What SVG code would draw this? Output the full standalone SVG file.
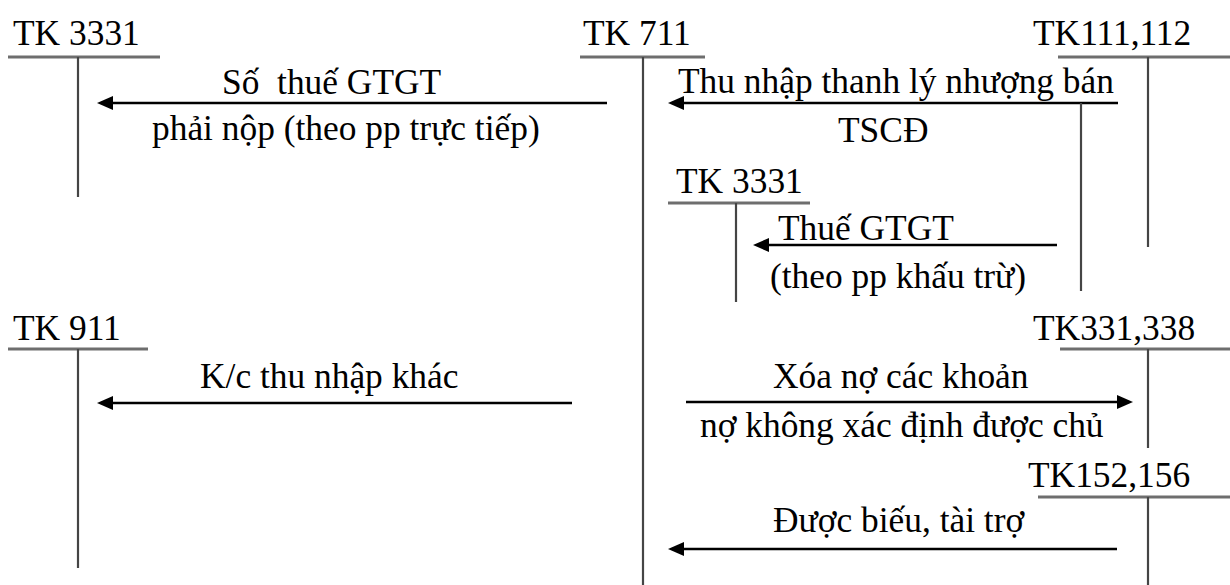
<svg xmlns="http://www.w3.org/2000/svg" width="1230" height="585" viewBox="0 0 1230 585">
  <style>
    text { font-family: "Liberation Serif", "Times New Roman", serif; font-size: 35.4px; fill: #000; }
    .bar { stroke: #6e6e6e; stroke-width: 3; fill: none; }
    .stem { stroke: #454545; stroke-width: 2.2; fill: none; }
    .flow { stroke: #000; stroke-width: 2.6; fill: none; marker-end: url(#head); }
  </style>
  <defs>
    <marker id="head" markerUnits="userSpaceOnUse" markerWidth="18" markerHeight="16" refX="8" refY="7" orient="auto">
      <path d="M0,0 L16,7 L0,14 z" fill="#000"/>
    </marker>
  </defs>
  <rect width="1230" height="585" fill="#fff"/>

  <!-- T-accounts -->
  <g id="tk3331-left">
    <text x="13" y="45">TK 3331</text>
    <line class="bar" x1="8" y1="57" x2="160" y2="57"/>
    <line class="stem" x1="78" y1="57" x2="78" y2="197"/>
  </g>
  <g id="tk711">
    <text x="583" y="45">TK 711</text>
    <line class="bar" x1="580" y1="57" x2="705" y2="57"/>
    <line class="stem" x1="643" y1="57" x2="643" y2="585"/>
  </g>
  <g id="tk111-112">
    <text x="1033" y="45">TK111,112</text>
    <line class="bar" x1="1058" y1="57" x2="1230" y2="57"/>
    <line class="stem" x1="1148" y1="57" x2="1148" y2="247"/>
  </g>
  <g id="tk3331-inner">
    <text x="676" y="193">TK 3331</text>
    <line class="bar" x1="668" y1="203" x2="810" y2="203"/>
    <line class="stem" x1="736" y1="203" x2="736" y2="302"/>
  </g>
  <g id="tk911">
    <text x="13" y="340">TK 911</text>
    <line class="bar" x1="8" y1="349" x2="148" y2="349"/>
    <line class="stem" x1="78" y1="349" x2="78" y2="568"/>
  </g>
  <g id="tk331-338">
    <text x="1033" y="340">TK331,338</text>
    <line class="bar" x1="1060" y1="349" x2="1230" y2="349"/>
    <line class="stem" x1="1148" y1="349" x2="1148" y2="448"/>
  </g>
  <g id="tk152-156">
    <text x="1028" y="487">TK152,156</text>
    <line class="bar" x1="1038" y1="497" x2="1230" y2="497"/>
    <line class="stem" x1="1148" y1="497" x2="1148" y2="585"/>
  </g>

  <!-- entries -->
  <g id="connectors">
    <line class="flow" x1="607" y1="103" x2="105" y2="103"/>
    <line class="flow" x1="1118" y1="103" x2="676" y2="103"/>
    <line class="stem" x1="1081" y1="103" x2="1081" y2="291"/>
    <line class="flow" x1="1057" y1="245" x2="761" y2="245"/>
    <line class="flow" x1="572" y1="403" x2="105" y2="403"/>
    <line class="flow" x1="686" y1="402" x2="1125" y2="402"/>
    <line class="flow" x1="1117" y1="549" x2="676" y2="549"/>
  </g>

  <g id="labels">
    <text x="222" y="94" xml:space="preserve">Số  thuế GTGT</text>
    <text x="152" y="140">phải nộp (theo pp trực tiếp)</text>
    <text x="678" y="93">Thu nhập thanh lý nhượng bán</text>
    <text x="838" y="142">TSCĐ</text>
    <text x="778" y="240">Thuế GTGT</text>
    <text x="770" y="288">(theo pp khấu trừ)</text>
    <text x="200" y="388">K/c thu nhập khác</text>
    <text x="773" y="388">Xóa nợ các khoản</text>
    <text x="700" y="437">nợ không xác định được chủ</text>
    <text x="773" y="532">Được biếu, tài trợ</text>
  </g>
</svg>
